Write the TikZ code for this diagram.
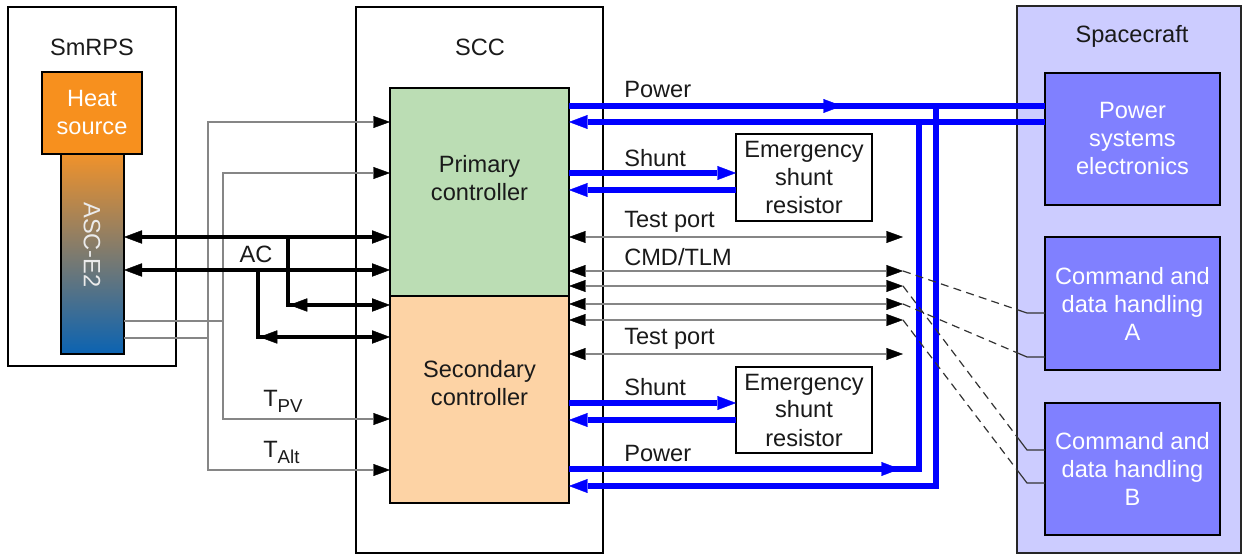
\documentclass[tikz,border=0pt]{standalone}
\usepackage{fontspec}
\setmainfont{Liberation Sans}
\usetikzlibrary{arrows.meta,calc}
\definecolor{cPrim}{HTML}{BBDDB4}
\definecolor{cSec}{HTML}{FDD3A5}
\definecolor{cSc}{HTML}{CCCCFF}
\definecolor{cBox}{HTML}{8080FF}
\definecolor{cHeat}{HTML}{F7901E}
\definecolor{cGray}{HTML}{868686}
\definecolor{cBlue}{HTML}{0000FF}
\definecolor{cAscTop}{HTML}{F0922B}
\definecolor{cAscMid}{HTML}{6E7A72}
\definecolor{cAscBot}{HTML}{0B63B2}
\definecolor{cTxt}{HTML}{1A1A1A}
\tikzset{
  gtip/.tip={Triangle[length=12.5pt,width=9pt,line width=0.3pt,color=black,fill=black]},
  atip/.tip={Triangle[length=13.5pt,width=10pt,line width=0.3pt,color=black,fill=black]},
  btip/.tip={Triangle[length=14pt,width=10.5pt,line width=0.3pt]},
  box/.style={draw, line width=1.5pt, inner sep=0pt, outer sep=0pt, align=center},
  lbl/.style={inner sep=0pt, anchor=base west, text=cTxt},
  ttl/.style={inner sep=0pt, anchor=base, text=cTxt},
  gline/.style={draw=cGray, line width=1.7pt},
  acline/.style={draw=black, line width=3pt},
  bline/.style={draw=cBlue, line width=4.2pt},
  dline/.style={draw=black!80, line width=0.9pt, dash pattern=on 6pt off 4pt},
  sline/.style={draw=black!80, line width=0.9pt},
}
\newcommand{\subtxt}[1]{\raisebox{-4.5pt}{\fontsize{14}{14}\selectfont #1}}
\begin{document}
\begin{tikzpicture}[x=0.75pt,y=-0.75pt,font=\fontsize{17.7}{21}\selectfont]
\useasboundingbox (0,0) rectangle (1247,555);

% ---------------- SmRPS ----------------
\node[box, minimum width=126pt, minimum height=269.25pt] (smrps) at (92,186.5) {};
\node[ttl] (smrpsl) at (92,56) {SmRPS};
\node[box, fill=cHeat, text=white, minimum width=75pt, minimum height=61.5pt] (heat) at (92,113) {Heat\\source};
\node[box, top color=cAscTop, middle color=cAscMid, bottom color=cAscBot, minimum width=47.25pt, minimum height=150pt] (asc) at (92.5,254) {};
\node[text=white!92!black, rotate=-90, inner sep=0pt] (ascl) at (92,245) {ASC-E2};

% ---------------- SCC ----------------
\node[box, minimum width=185.25pt, minimum height=409.5pt] (scc) at (479.5,280) {};
\node[ttl] (sccl) at (480,56) {SCC};
\node[box, fill=cPrim, minimum width=134.25pt, minimum height=156pt] (prim) at (479.5,192) {};
\node[box, fill=cSec, minimum width=134.25pt, minimum height=155.25pt] (sec) at (479.5,399.5) {};
\node[align=center, text=cTxt, inner sep=0pt] (primt) at (479.5,178) {Primary\\controller};
\node[align=center, text=cTxt, inner sep=0pt] (sect) at (479.5,383) {Secondary\\controller};
\node[box, fill=white, text=cTxt, minimum width=102pt, minimum height=65.25pt] (esr1) at (804,177.5) {Emergency\\shunt\\resistor};
\node[box, fill=white, text=cTxt, minimum width=102pt, minimum height=64.5pt] (esr2) at (804,410) {Emergency\\shunt\\resistor};

% ---------------- Spacecraft ----------------
\node[draw=black!85, line width=1.5pt, fill=cSc, inner sep=0pt, minimum width=168pt, minimum height=410.25pt] (sc) at (1129,279.5) {};
\node[ttl] (scl) at (1132,43) {Spacecraft};
\node[box, fill=cBox, text=white, minimum width=131.25pt, minimum height=99pt] (pse) at (1132.5,139) {Power\\systems\\electronics};
\node[box, fill=cBox, text=white, minimum width=131.25pt, minimum height=99.75pt] (cdha) at (1132.5,303.5) {Command and\\data handling\\A};
\node[box, fill=cBox, text=white, minimum width=131.25pt, minimum height=99pt] (cdhb) at (1132.5,469) {Command and\\data handling\\B};

% ---------------- left gray sensor lines ----------------
\coordinate (g1) at (208,338);
\coordinate (g2) at (223,321);
\draw[gline] (asc.east |- g1) -- (g1);
\draw[gline,-gtip] (g1) |- (prim.west |- 0,122);
\draw[gline,-gtip] (g1) |- (sec.west |- 0,470);
\draw[gline] (asc.east |- g2) -- (g2);
\draw[gline,-gtip] (g2) |- (prim.west |- 0,173);
\draw[gline,-gtip] (g2) |- (sec.west |- 0,419);
\node[lbl] (tpv) at (263,407) {T\subtxt{PV}};
\node[lbl] (talt) at (263,458) {T\subtxt{Alt}};

% ---------------- AC lines ----------------
\draw[acline,atip-atip] (asc.east |- 0,237) -- (prim.west |- 0,237);
\draw[acline,atip-atip] (asc.east |- 0,270) -- (prim.west |- 0,270);
\coordinate (a1) at (288,237);
\coordinate (a1b) at (288,305);
\coordinate (a2) at (258,270);
\coordinate (a2b) at (258,337);
\draw[acline] (a1) -- (a1b) -- ++(8,0);
\draw[acline,atip-atip] ([xshift=1pt]a1b) -- (sec.west |- a1b);
\draw[acline] (a2) -- (a2b) -- ++(8,0);
\draw[acline,atip-atip] ([xshift=1pt]a2b) -- (sec.west |- a2b);
\node[ttl] (acl) at (256,263) {AC};

% ---------------- right gray data lines ----------------
\coordinate (t1) at (903,237);
\coordinate (c1) at (903,271);
\coordinate (c2) at (903,286);
\coordinate (c3) at (903,304);
\coordinate (c4) at (903,320);
\coordinate (t2) at (903,354);
\draw[gline,gtip-gtip] (prim.east |- t1) -- (t1);
\draw[gline,gtip-gtip] (prim.east |- c1) -- (c1);
\draw[gline,gtip-gtip] (prim.east |- c2) -- (c2);
\draw[gline,gtip-gtip] (sec.east |- c3) -- (c3);
\draw[gline,gtip-gtip] (sec.east |- c4) -- (c4);
\draw[gline,gtip-gtip] (sec.east |- t2) -- (t2);

% ---------------- blue power / shunt lines ----------------
\coordinate (pm) at (842,106);
\coordinate (j2t) at (919,122);
\coordinate (j2b) at (919,469);
\coordinate (pm2) at (900,469);
\coordinate (j1t) at (936,106);
\coordinate (j1b) at (936,486);
\draw[bline] (prim.east |- pm) -- (pse.west |- pm);
\draw[bline,-btip] (prim.east |- pm) -- (pm);
\draw[bline,-btip] (pse.west |- j2t) -- (prim.east |- j2t);
\draw[bline] (sec.east |- j2b) -- (j2b) -- (j2t);
\draw[bline,-btip] (sec.east |- pm2) -- (pm2);
\draw[bline,-btip] (j1t) -- (j1b) -- (sec.east |- j1b);
\draw[bline,-btip] (prim.east |- 0,173) -- (esr1.west |- 0,173);
\draw[bline,-btip] (esr1.west |- 0,190) -- (prim.east |- 0,190);
\draw[bline,-btip] (sec.east |- 0,403) -- (esr2.west |- 0,403);
\draw[bline,-btip] (esr2.west |- 0,420) -- (sec.east |- 0,420);

% ---------------- dashed links to C&DH ----------------
\coordinate (qa1) at (1027,313);
\coordinate (qa2) at (1027,357);
\coordinate (qb1) at (1027,450);
\coordinate (qb2) at (1027,483);
\coordinate (pa1) at ($(c1)!0.919!(qa1)$);
\coordinate (pb1) at ($(c2)!0.919!(qb1)$);
\coordinate (pa2) at ($(c3)!0.919!(qa2)$);
\coordinate (pb2) at ($(c4)!0.919!(qb2)$);
\draw[dline] (c1) -- (pa1);
\draw[sline] (pa1) -- (qa1) -- (cdha.west |- qa1);
\draw[dline] (c2) -- (pb1);
\draw[sline] (pb1) -- (qb1) -- (cdhb.west |- qb1);
\draw[dline] (c3) -- (pa2);
\draw[sline] (pa2) -- (qa2) -- (cdha.west |- qa2);
\draw[dline] (c4) -- (pb2);
\draw[sline] (pb2) -- (qb2) -- (cdhb.west |- qb2);

% ---------------- labels ----------------
\node[lbl] (lpow1) at (624,98) {Power};
\node[lbl] (lsh1) at (624,167) {Shunt};
\node[lbl] (ltp1) at (624,228) {Test port};
\node[lbl] (lcmd) at (624,266) {CMD/TLM};
\node[lbl] (ltp2) at (624,345) {Test port};
\node[lbl] (lsh2) at (624,396) {Shunt};
\node[lbl] (lpow2) at (624,462) {Power};
\end{tikzpicture}
\end{document}
